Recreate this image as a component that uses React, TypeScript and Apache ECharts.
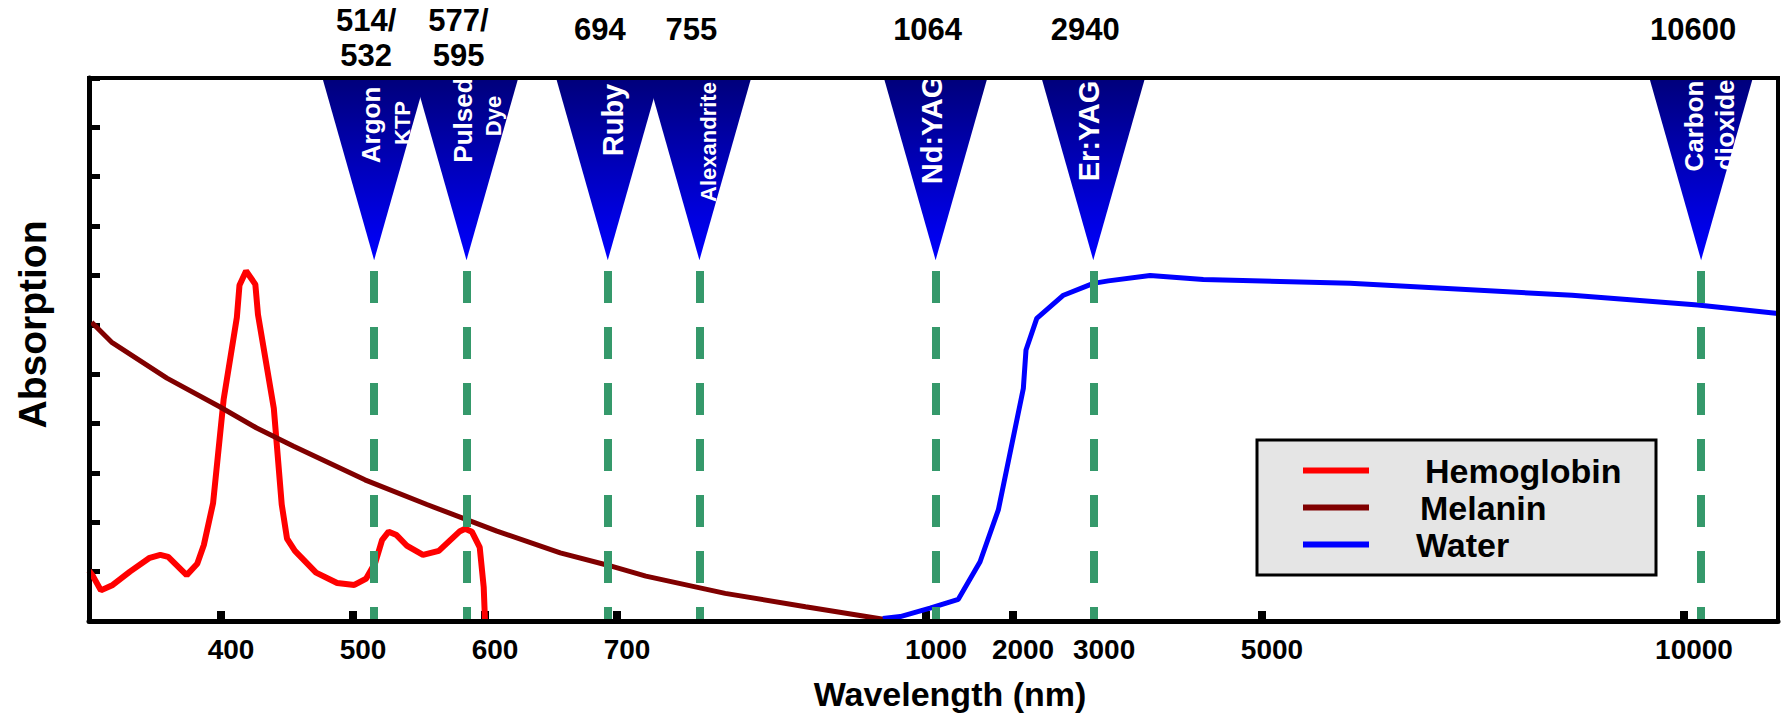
import React, { useEffect, useRef } from "react";
import * as echarts from "echarts";

// ---- axis scale (the reference uses a hand-drawn, piecewise wavelength axis) ----
const SCALE_NM = [300, 400, 500, 600, 700, 1000, 2000, 3000, 5000, 10000, 11100];
const SCALE_U = [0, 1, 2, 3, 4, 6.341, 7.0, 7.614, 8.886, 12.083, 12.795];
const TICK_NM = [400, 500, 600, 700, 1000, 2000, 3000, 5000, 10000];

// ---- series data (wavelength nm, relative absorption) ----
const HB_NM = [300, 303, 309, 318, 331, 346, 354, 360, 374, 382, 387, 394, 402, 412, 414, 419, 426, 428, 440, 446, 450, 456, 472, 488, 501, 510, 517, 522, 527, 533, 541, 553, 565, 581, 585, 590, 596, 599, 600];
const HB_ABS = [1.02, 0.91, 0.62, 0.73, 1.0, 1.28, 1.34, 1.3, 0.93, 1.16, 1.54, 2.39, 4.49, 6.15, 6.8, 7.09, 6.82, 6.21, 4.31, 2.36, 1.67, 1.42, 0.98, 0.77, 0.73, 0.86, 1.19, 1.64, 1.81, 1.74, 1.52, 1.34, 1.42, 1.82, 1.87, 1.81, 1.49, 0.69, 0];

const MEL_NM = [302, 317, 359, 399, 427, 455, 509, 556, 609, 657, 693, 728, 805, 883, 960];
const MEL_ABS = [6.05, 5.65, 4.92, 4.34, 3.91, 3.54, 2.86, 2.36, 1.82, 1.38, 1.13, 0.91, 0.56, 0.29, 0.03];

const WATER_NM = [958, 975, 1046, 1371, 1621, 1831, 2127, 2160, 2293, 2622, 2991, 3170, 3667, 4301, 6043, 8673, 10162, 11100];
const WATER_ABS = [0.05, 0.09, 0.26, 0.44, 1.2, 2.25, 4.71, 5.49, 6.13, 6.6, 6.84, 6.89, 7.0, 6.92, 6.84, 6.6, 6.4, 6.23];

// ---- lasers ----
const LASER_LABELS = ["514/\n532", "577/\n595", "694", "755", "1064", "2940", "10600"];
const LASER_NAMES = [["Argon", "KTP"], ["Pulsed", "Dye"], ["Ruby"], ["Alexandrite"], ["Nd:YAG"], ["Er:YAG"], ["Carbon", "dioxide"]];
// where each laser marker sits on the drawn axis
const LASER_AXIS_NM = [516, 586, 693, 780, 1110, 2990, 10200];

const Y_MAX = 11;
const LASER_TIP_Y = 7.31;
const LASER_LINE_TOP_Y = 7.09;

// layout of the white names inside the triangles (pixel offsets from tip x / plot top)
const LASER_TEXT_LAYOUT = [
  { dx: [-3, 28], cy: [47, 45], size: [26, 22] },
  { dx: [-4, 27], cy: [42, 38], size: [26, 22] },
  { dx: [5], cy: [42], size: [29] },
  { dx: [9], cy: [64], size: [22] },
  { dx: [-4], cy: [52], size: [29] },
  { dx: [-4], cy: [53], size: [29] },
  { dx: [-7, 24], cy: [48, 47], size: [26, 26] },
];

const FONT = '"Liberation Sans", Arial, Helvetica, sans-serif';

function toU(nm: number): number {
  for (let i = 0; i < SCALE_NM.length - 1; i++) {
    if (nm <= SCALE_NM[i + 1]) {
      const t = (nm - SCALE_NM[i]) / (SCALE_NM[i + 1] - SCALE_NM[i]);
      return SCALE_U[i] + t * (SCALE_U[i + 1] - SCALE_U[i]);
    }
  }
  return SCALE_U[SCALE_U.length - 1];
}

const TICK_U = TICK_NM.map(toU);

function labelFor(v: number): string {
  let best = 0;
  for (let k = 1; k < TICK_U.length; k++) {
    if (Math.abs(TICK_U[k] - v) < Math.abs(TICK_U[best] - v)) best = k;
  }
  return String(TICK_NM[best]);
}

const pairs = (xs: number[], ys: number[]) => xs.map((x, i) => [toU(x), ys[i]]);

export default function App() {
  const ref = useRef<HTMLDivElement>(null);
  useEffect(() => {
    const chart = echarts.init(ref.current!, null, { renderer: "svg" });
    const grad = () =>
      new echarts.graphic.LinearGradient(0, 0, 0, 1, [
        { offset: 0, color: "#00007a" },
        { offset: 1, color: "#0000ff" },
      ]);
    const option: any = {
      animation: false,
      backgroundColor: "#ffffff",
      grid: { left: 89, right: 8, top: 78, bottom: 99, show: false, outerBoundsMode: "none" },
      xAxis: {
        type: "value",
        min: 0,
        max: SCALE_U[SCALE_U.length - 1],
        name: "Wavelength (nm)",
        nameLocation: "middle",
        nameGap: 56,
        nameTextStyle: { fontFamily: FONT, fontSize: 34, fontWeight: "bold", color: "#000", padding: [0, 0, 0, 33] },
        axisLine: { show: true, onZero: false, lineStyle: { color: "#000", width: 5 } },
        axisTick: { show: true, inside: true, length: 10, lineStyle: { color: "#000", width: 8 }, customValues: TICK_U },
        axisLabel: {
          show: true,
          customValues: TICK_U,
          formatter: (v: number) => labelFor(v),
          fontFamily: FONT,
          fontSize: 28,
          fontWeight: "bold",
          color: "#000",
          margin: 14,
          padding: [0, 0, 0, 20],
        },
        splitLine: { show: false },
      },
      yAxis: {
        type: "value",
        min: 0,
        max: Y_MAX,
        interval: 1,
        name: "Absorption",
        nameLocation: "middle",
        nameGap: 37,
        nameRotate: 90,
        nameTextStyle: { fontFamily: FONT, fontSize: 39, fontWeight: "bold", color: "#000", padding: [0, 0, 0, 50] },
        axisLine: { show: true, lineStyle: { color: "#000", width: 5 } },
        axisTick: { show: true, inside: true, length: 11, lineStyle: { color: "#000", width: 5 } },
        axisLabel: { show: false },
        splitLine: { show: false },
      },
      legend: {
        left: 1303,
        top: 452,
        orient: "vertical",
        itemWidth: 66,
        itemHeight: 6,
        itemGap: 0,
        icon: "rect",
        padding: 0,
        selectedMode: false,
        textStyle: { fontFamily: FONT, fontSize: 34, fontWeight: "bold", color: "#000", lineHeight: 37 },
        data: [
          { name: "Hemoglobin", textStyle: { padding: [0, 0, 0, 51] } },
          { name: "Melanin", textStyle: { padding: [0, 0, 0, 46] } },
          { name: "Water", textStyle: { padding: [0, 0, 0, 42] } },
        ],
        z: 6,
      },
      graphic: [
        {
          type: "rect",
          z: 5,
          silent: true,
          shape: { x: 1257, y: 440, width: 399, height: 135 },
          style: { fill: "#e5e5e5", stroke: "#000", lineWidth: 3 },
        },
        {
          type: "rect",
          z: 20,
          silent: true,
          shape: { x: 89, y: 78, width: 1689, height: 543 },
          style: { fill: "none", stroke: "#000", lineWidth: 4 },
        },
      ],
      series: [
        {
          name: "Hemoglobin",
          type: "line",
          data: pairs(HB_NM, HB_ABS),
          showSymbol: false,
          symbol: "none",
          color: "#ff0000",
          lineStyle: { color: "#ff0000", width: 6 },
          z: 2,
          silent: true,
        },
        {
          name: "Melanin",
          type: "line",
          data: pairs(MEL_NM, MEL_ABS),
          showSymbol: false,
          symbol: "none",
          color: "#800000",
          lineStyle: { color: "#800000", width: 5 },
          z: 2,
          silent: true,
        },
        {
          name: "Water",
          type: "line",
          data: pairs(WATER_NM, WATER_ABS),
          showSymbol: false,
          symbol: "none",
          color: "#0000ff",
          lineStyle: { color: "#0000ff", width: 5 },
          z: 2,
          silent: true,
        },
        {
          name: "laser lines",
          type: "line",
          data: [],
          z: 3,
          silent: true,
          markLine: {
            silent: true,
            symbol: ["none", "none"],
            label: { show: false },
            animation: false,
            lineStyle: { color: "#35996b", width: 8, type: [32, 24], opacity: 1 },
            emphasis: { disabled: true },
            data: LASER_AXIS_NM.map((nm) => [
              { coord: [toU(nm), LASER_LINE_TOP_Y] },
              { coord: [toU(nm), 0] },
            ]),
          },
        },
        {
          name: "lasers",
          type: "custom",
          clip: false,
          silent: true,
          z: 4,
          data: LASER_AXIS_NM.map((nm, i) => [toU(nm), i]),
          renderItem: (params: any, api: any) => {
            const i = params.dataIndex;
            const xu = api.value(0);
            const tip = api.coord([xu, LASER_TIP_Y]);
            const top = api.coord([xu, Y_MAX]);
            const hw = 52;
            const lay = LASER_TEXT_LAYOUT[i];
            const children: any[] = [
              {
                type: "polygon",
                shape: { points: [[tip[0] - hw, top[1] - 1], [tip[0] + hw, top[1] - 1], [tip[0], tip[1]]] },
                style: { fill: grad() },
              },
            ];
            LASER_NAMES[i].forEach((t, k) => {
              children.push({
                type: "text",
                x: tip[0] + lay.dx[k],
                y: top[1] + lay.cy[k],
                rotation: Math.PI / 2,
                style: {
                  text: t,
                  fill: "#ffffff",
                  fontFamily: FONT,
                  fontSize: lay.size[k],
                  fontWeight: "bold",
                  align: "center",
                  verticalAlign: "middle",
                },
              });
            });
            const lbl = LASER_LABELS[i];
            const two = lbl.indexOf("\n") >= 0;
            children.push({
              type: "text",
              x: tip[0] - 8,
              y: top[1] - (two ? 40.5 : 49),
              style: {
                text: lbl,
                fill: "#000000",
                fontFamily: FONT,
                fontSize: 31,
                fontWeight: "bold",
                align: "center",
                verticalAlign: "middle",
                lineHeight: 35,
              },
            });
            return { type: "group", children };
          },
        },
      ],
    };
    chart.setOption(option);
    return () => chart.dispose();
  }, []);
  return (
    <div
      ref={ref}
      style={{ position: "fixed", left: 0, top: 0, width: 1786, height: 720, background: "#fff" }}
    />
  );
}
